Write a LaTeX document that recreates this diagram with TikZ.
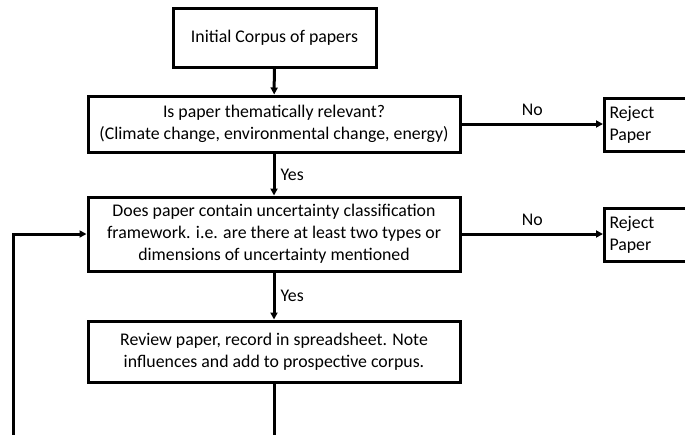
\documentclass[tikz,border=0pt]{standalone}
\usepackage{fontspec}
\setmainfont{Carlito}
\usetikzlibrary{arrows.meta}
\begin{document}
\begin{tikzpicture}[x=1pt,y=-1pt,line width=3pt,
  font=\fontsize{17.8}{22}\selectfont,
  box/.style={draw, rectangle, align=center, inner sep=0pt},
  rejbox/.style={draw, rectangle, align=left, anchor=west, text width=90pt,
    inner xsep=5pt, inner ysep=0pt, minimum height=53pt},
  flow/.style={-{Triangle[length=7pt,width=7pt]}},
  lbl/.style={inner sep=0pt}]
  \clip (0,0) rectangle (685,434);

  % main column of steps
  \node[box, minimum width=203pt, minimum height=59pt] (start) at (274.5,37.5) {Initial Corpus of papers};
  \node[box, minimum width=372pt, minimum height=56pt] (rel) at (274,124)
    {Is paper thematically relevant?\\(Climate change, environmental change, energy)};
  \node[box, minimum width=372pt, minimum height=74pt] (frame) at (274,234)
    {Does paper contain uncertainty classification\\framework. i.e. are there at least two types or\\dimensions of uncertainty mentioned};
  \node[box, minimum width=372pt, minimum height=61pt] (review) at (274,351.5)
    {Review paper, record in spreadsheet. Note\\influences and add to prospective corpus.};

  % rejection boxes on the right
  \node[rejbox] (rej1) at (603,125) {Reject\\Paper};
  \node[rejbox] (rej2) at (603,235) {Reject\\Paper};

  % loop-back line ends
  \coordinate (bot) at (274,440);
  \coordinate (loopbot) at (13,440);

  % connectors
  \draw[flow] (start) -- (rel);
  \draw[flow] (rel) -- node[lbl, right=5pt] {Yes} (frame);
  \draw[flow] (frame) -- node[lbl, right=5pt] {Yes} (review);
  \draw[flow] (rel.east) -- node[lbl, above=7pt, pos=0.5] {No} (rej1.west |- rel.east);
  \draw[flow] (frame.east) -- node[lbl, above=7pt, pos=0.5] {No} (rej2.west |- frame.east);
  \draw (review) -- (bot);
  \draw[flow] (loopbot) |- (frame.west);
\end{tikzpicture}
\end{document}
